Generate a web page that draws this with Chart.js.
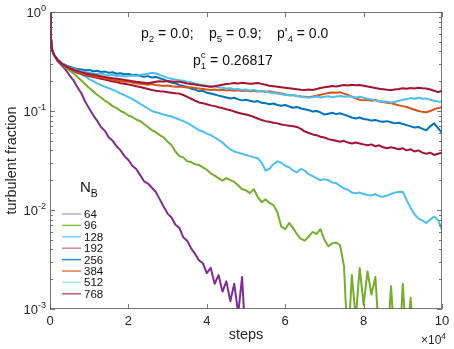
<!DOCTYPE html>
<html>
<head>
<meta charset="utf-8">
<script src="https://cdn.jsdelivr.net/npm/chart.js@4.4.1/dist/chart.umd.min.js"></script>
<style>
  html, body { margin: 0; padding: 0; background: #fff; }
  #wrap { width: 454px; height: 349px; }
</style>
</head>
<body>
<div id="wrap"><canvas id="chart" width="454" height="349"></canvas></div>
<script>
  // time steps shared by all runs
  const steps = [0, 200, 500,
    1000, 2000, 3000, 4000, 5000, 6000, 7000, 8000, 9000, 10000,
    11000, 12000, 13000, 14000, 15000, 16000, 17000, 18000, 19000, 20000,
    21000, 22000, 23000, 24000, 25000, 26000, 27000, 28000, 29000, 30000,
    31000, 32000, 33000, 34000, 35000, 36000, 37000, 38000, 39000, 40000,
    41000, 42000, 43000, 44000, 45000, 46000, 47000, 48000, 49000, 50000,
    51000, 52000, 53000, 54000, 55000, 56000, 57000, 58000, 59000, 60000,
    61000, 62000, 63000, 64000, 65000, 66000, 67000, 68000, 69000, 70000,
    71000, 72000, 73000, 74000, 75000, 76000, 77000, 78000, 79000, 80000,
    81000, 82000, 83000, 84000, 85000, 86000, 87000, 88000, 89000, 90000,
    91000, 92000, 93000, 94000, 95000, 96000, 97000, 98000, 99000, 100000];

  const nbLabels = ["64", "96", "128", "192", "256", "384", "512", "768"];

  const frac64 = [0.97, 0.56, 0.42,
    0.37, 0.318, 0.288, 0.262, 0.228, 0.204, 0.174, 0.151, 0.124, 0.106,
    0.091, 0.08, 0.069, 0.063, 0.054, 0.05, 0.044, 0.04, 0.035, 0.032,
    0.028, 0.026, 0.0225, 0.0195, 0.0185, 0.0168, 0.0152, 0.0128, 0.0108, 0.0092,
    0.0084, 0.0071, 0.0066, 0.0053, 0.0049, 0.0041, 0.0036, 0.0031, 0.0029, 0.0023,
    0.0026, 0.0018, 0.0022, 0.0015, 0.0019, 0.0012, 0.0018, 0.0009, 0.0021, 0.0004];

  const frac96 = [0.97, 0.56, 0.42,
    0.37, 0.322, 0.296, 0.276, 0.256, 0.24, 0.221, 0.203, 0.186, 0.171,
    0.158, 0.146, 0.137, 0.127, 0.12, 0.112, 0.107, 0.1, 0.096, 0.09,
    0.087, 0.082, 0.079, 0.074, 0.069, 0.064, 0.061, 0.057, 0.054, 0.049,
    0.045, 0.039, 0.035, 0.034, 0.031, 0.0305, 0.029, 0.0285, 0.027, 0.0255,
    0.0235, 0.0222, 0.021, 0.0198, 0.021, 0.02, 0.0192, 0.0178, 0.0162, 0.0158,
    0.0148, 0.0162, 0.0135, 0.012, 0.0128, 0.0118, 0.0112, 0.0095, 0.0068, 0.0064,
    0.0074, 0.0066, 0.0057, 0.0051, 0.0049, 0.0054, 0.006, 0.0057, 0.0064, 0.005,
    0.0043, 0.0046, 0.0047, 0.0044, 0.0027, 0.0004, 0.0022, 0.0008, 0.0026, 0.0011,
    0.0024, 0.0014, 0.0021, 0.0005, 0.0003, 0.0004, 0.0017, 0.0004, 0.0003, 0.0018,
    0.0004, 0.0013, 0.0003];

  const frac128 = [0.97, 0.56, 0.42,
    0.37, 0.32, 0.3, 0.285, 0.275, 0.26, 0.25, 0.235, 0.225, 0.21,
    0.2, 0.19, 0.183, 0.176, 0.17, 0.164, 0.158, 0.15, 0.145, 0.138,
    0.132, 0.125, 0.118, 0.112, 0.106, 0.1, 0.097, 0.095, 0.092, 0.09,
    0.088, 0.085, 0.082, 0.079, 0.076, 0.072, 0.068, 0.064, 0.062, 0.059,
    0.057, 0.054, 0.051, 0.048, 0.044, 0.041, 0.039, 0.038, 0.037, 0.036,
    0.035, 0.034, 0.0335, 0.03, 0.025, 0.026, 0.029, 0.031, 0.03, 0.028,
    0.027, 0.025, 0.024, 0.026, 0.025, 0.023, 0.022, 0.021, 0.02, 0.0205,
    0.02, 0.019, 0.0187, 0.0175, 0.0165, 0.016, 0.015, 0.0148, 0.015, 0.0145,
    0.0142, 0.014, 0.0145, 0.0138, 0.0136, 0.014, 0.0145, 0.015, 0.0152, 0.0153,
    0.0125, 0.0105, 0.009, 0.0082, 0.0078, 0.0074, 0.008, 0.0086, 0.0079, 0.0063];

  const frac192 = [0.97, 0.56, 0.42,
    0.37, 0.32, 0.298, 0.282, 0.268, 0.255, 0.243, 0.236, 0.229, 0.226,
    0.221, 0.217, 0.212, 0.208, 0.203, 0.199, 0.196, 0.191, 0.188, 0.185,
    0.182, 0.178, 0.175, 0.171, 0.167, 0.163, 0.16, 0.158, 0.157, 0.155,
    0.153, 0.151, 0.15, 0.145, 0.139, 0.133, 0.127, 0.122, 0.12, 0.117,
    0.114, 0.112, 0.109, 0.107, 0.104, 0.102, 0.099, 0.096, 0.094, 0.092,
    0.09, 0.087, 0.084, 0.081, 0.079, 0.078, 0.076, 0.075, 0.073, 0.072,
    0.071, 0.07, 0.069, 0.066, 0.062, 0.06, 0.058, 0.057, 0.055, 0.054,
    0.052, 0.051, 0.05, 0.049, 0.05, 0.048, 0.047, 0.048, 0.047, 0.046,
    0.045, 0.046, 0.044, 0.045, 0.043, 0.042, 0.043, 0.042, 0.041, 0.042,
    0.04, 0.041, 0.039, 0.04, 0.038, 0.037, 0.038, 0.036, 0.037, 0.038];

  const frac256 = [0.97, 0.56, 0.42,
    0.37, 0.33, 0.305, 0.29, 0.28, 0.272, 0.265, 0.262, 0.258, 0.26,
    0.252, 0.255, 0.248, 0.25, 0.243, 0.246, 0.238, 0.241, 0.235, 0.237,
    0.231, 0.233, 0.226, 0.222, 0.225, 0.218, 0.221, 0.214, 0.208, 0.2,
    0.194, 0.19, 0.183, 0.179, 0.175, 0.168, 0.165, 0.158, 0.16, 0.153,
    0.15, 0.147, 0.143, 0.14, 0.137, 0.134, 0.136, 0.131, 0.128, 0.13,
    0.127, 0.124, 0.126, 0.121, 0.12, 0.117, 0.119, 0.115, 0.113, 0.115,
    0.111, 0.108, 0.11, 0.106, 0.104, 0.102, 0.099, 0.1, 0.097, 0.092,
    0.094, 0.096, 0.093, 0.095, 0.092, 0.089, 0.086, 0.084, 0.086, 0.083,
    0.082, 0.08, 0.081, 0.079, 0.078, 0.079, 0.077, 0.075, 0.076, 0.074,
    0.072, 0.07, 0.068, 0.069, 0.066, 0.064, 0.07, 0.075, 0.067, 0.06];

  const frac384 = [0.97, 0.56, 0.42,
    0.37, 0.325, 0.3, 0.283, 0.27, 0.258, 0.248, 0.24, 0.234, 0.23,
    0.226, 0.222, 0.218, 0.214, 0.21, 0.206, 0.203, 0.2, 0.197, 0.199,
    0.194, 0.19, 0.188, 0.186, 0.184, 0.187, 0.183, 0.181, 0.179, 0.181,
    0.178, 0.176, 0.177, 0.175, 0.173, 0.174, 0.171, 0.169, 0.167, 0.165,
    0.163, 0.165, 0.162, 0.164, 0.161, 0.163, 0.16, 0.162, 0.159, 0.161,
    0.158, 0.16, 0.157, 0.159, 0.156, 0.158, 0.155, 0.153, 0.15, 0.147,
    0.144, 0.145, 0.142, 0.14, 0.139, 0.138, 0.14, 0.143, 0.146, 0.149,
    0.152, 0.154, 0.153, 0.155, 0.15, 0.145, 0.139, 0.134, 0.13, 0.128,
    0.13, 0.127, 0.129, 0.125, 0.123, 0.121, 0.12, 0.117, 0.114, 0.112,
    0.11, 0.106, 0.103, 0.1, 0.098, 0.097, 0.1, 0.104, 0.107, 0.11];

  const frac512 = [0.97, 0.56, 0.42,
    0.37, 0.33, 0.303, 0.288, 0.276, 0.266, 0.258, 0.252, 0.248, 0.244,
    0.24, 0.236, 0.239, 0.233, 0.229, 0.232, 0.226, 0.228, 0.223, 0.225,
    0.228, 0.226, 0.231, 0.235, 0.238, 0.243, 0.239, 0.232, 0.224, 0.216,
    0.212, 0.208, 0.205, 0.202, 0.198, 0.195, 0.19, 0.186, 0.183, 0.18,
    0.176, 0.178, 0.173, 0.172, 0.169, 0.17, 0.166, 0.167, 0.163, 0.165,
    0.161, 0.163, 0.159, 0.157, 0.158, 0.154, 0.152, 0.15, 0.148, 0.146,
    0.144, 0.145, 0.142, 0.14, 0.138, 0.137, 0.138, 0.14, 0.137, 0.139,
    0.141, 0.138, 0.14, 0.142, 0.139, 0.141, 0.14, 0.137, 0.139, 0.136,
    0.133, 0.131, 0.128, 0.126, 0.125, 0.124, 0.122, 0.124, 0.127, 0.13,
    0.132, 0.135, 0.133, 0.136, 0.133, 0.134, 0.13, 0.127, 0.125, 0.124];

  const frac768 = [0.97, 0.56, 0.42,
    0.37, 0.325, 0.3, 0.285, 0.272, 0.262, 0.254, 0.247, 0.241, 0.236,
    0.232, 0.228, 0.224, 0.22, 0.217, 0.214, 0.212, 0.209, 0.206, 0.203,
    0.2, 0.197, 0.195, 0.193, 0.191, 0.194, 0.197, 0.2, 0.198, 0.201,
    0.199, 0.197, 0.198, 0.194, 0.19, 0.187, 0.185, 0.182, 0.18, 0.178,
    0.176, 0.178, 0.181, 0.184, 0.187, 0.189, 0.192, 0.19, 0.193, 0.191,
    0.188, 0.19, 0.192, 0.188, 0.184, 0.18, 0.178, 0.176, 0.174, 0.172,
    0.17, 0.168, 0.166, 0.164, 0.163, 0.165, 0.163, 0.167, 0.171, 0.174,
    0.176, 0.179, 0.177, 0.18, 0.183, 0.181, 0.184, 0.182, 0.183, 0.18,
    0.177, 0.174, 0.171, 0.168, 0.166, 0.164, 0.163, 0.165, 0.167, 0.17,
    0.168, 0.171, 0.169, 0.172, 0.17, 0.169, 0.165, 0.16, 0.155, 0.16];

  const seriesValues = [frac64, frac96, frac128, frac192, frac256, frac384, frac512, frac768];
  const lineColors = ["#7E2F8E", "#77AC30", "#4DBEEE", "#A2142F", "#0072BD", "#D95319", "#4DBEEE", "#A2142F"];
  const legendColors = ["#c9a3d3", "#8cc04e", "#7fd2f4", "#cc8794", "#2f89cc", "#e07a48", "#a8e0f6", "#c0586c"];

  const yDecades = [0.001, 0.01, 0.1, 1];
  const yDecadeExp = ["-3", "-2", "-1", "0"];
  const xTicks = [0, 20000, 40000, 60000, 80000, 100000];
  const xTickLabels = ["0", "2", "4", "6", "8", "10"];

  const FONT = '"Liberation Sans", Arial, Helvetica, sans-serif';
  const fontOf = (size) => `${size}px ${FONT}`;

  function partWidth(ctx, p, size) {
    if (p.k === "n") {
      ctx.font = fontOf(size);
      return ctx.measureText(p.t).width;
    }
    ctx.font = fontOf(size * 0.7);
    if (p.k === "ss") {
      return Math.max(ctx.measureText(p.t).width, ctx.measureText(p.u).width);
    }
    return ctx.measureText(p.t).width;
  }

  function drawRich(ctx, parts, x, y, size, align) {
    const total = parts.reduce((w, p) => w + partWidth(ctx, p, size), 0);
    let cx = x;
    if (align === "right") cx = x - total;
    if (align === "center") cx = x - total / 2;
    ctx.textAlign = "left";
    ctx.textBaseline = "alphabetic";
    parts.forEach((p) => {
      const w = partWidth(ctx, p, size);
      if (p.k === "n") {
        ctx.font = fontOf(size);
        ctx.fillText(p.t, cx, y);
      } else {
        ctx.font = fontOf(size * 0.7);
        if (p.k === "sub") ctx.fillText(p.t, cx, y + size * 0.3);
        if (p.k === "sup") ctx.fillText(p.t, cx, y - size * 0.45);
        if (p.k === "ss") {
          ctx.fillText(p.t, cx, y + size * 0.3);
          ctx.fillText(p.u, cx, y - size * 0.5);
        }
      }
      cx += w;
    });
  }

  const axesPlugin = {
    id: "matlabAxes",
    afterDatasetsDraw(chart) {
      const { ctx, chartArea: a, scales } = chart;
      const xs = scales.x;
      const ys = scales.y;
      ctx.save();
      ctx.strokeStyle = "#555";
      ctx.lineWidth = 0.8;
      ctx.strokeRect(a.left + 0.5, a.top + 0.5, a.right - a.left - 1, a.bottom - a.top - 1);

      // x ticks, inward, top and bottom
      xTicks.forEach((v) => {
        const px = Math.round(xs.getPixelForValue(v)) + 0.5;
        ctx.beginPath();
        ctx.moveTo(px, a.bottom);
        ctx.lineTo(px, a.bottom - 5);
        ctx.moveTo(px, a.top);
        ctx.lineTo(px, a.top + 5);
        ctx.stroke();
      });

      // y ticks, log major + minor, both sides
      yDecades.forEach((d, i) => {
        for (let m = 1; m <= 9; m++) {
          const v = d * m;
          if (v > 1 || (i === yDecades.length - 1 && m > 1)) continue;
          const py = Math.round(ys.getPixelForValue(v)) + 0.5;
          const len = m === 1 ? 5 : 3;
          ctx.beginPath();
          ctx.moveTo(a.left, py);
          ctx.lineTo(a.left + len, py);
          ctx.moveTo(a.right, py);
          ctx.lineTo(a.right - len, py);
          ctx.stroke();
        }
      });

      ctx.fillStyle = "#262626";
      yDecades.forEach((d, i) => {
        const py = ys.getPixelForValue(d);
        drawRich(ctx, [{ k: "n", t: "10" }, { k: "sup", t: yDecadeExp[i] }], a.left - 4, py + 5, 13, "right");
      });
      ctx.font = fontOf(13);
      ctx.textAlign = "center";
      xTicks.forEach((v, i) => {
        ctx.fillText(xTickLabels[i], xs.getPixelForValue(v), a.bottom + 16);
      });
      drawRich(ctx, [{ k: "n", t: "\u00d710" }, { k: "sup", t: "4" }], a.right + 4, a.bottom + 35, 12, "right");

      // axis titles
      ctx.font = fontOf(14.5);
      ctx.textAlign = "center";
      ctx.fillText("steps", (a.left + a.right) / 2, a.bottom + 30);
      ctx.save();
      ctx.translate(16, (a.top + a.bottom) / 2);
      ctx.rotate(-Math.PI / 2);
      ctx.fillText("turbulent fraction", 0, 0);
      ctx.restore();

      // parameter annotation
      ctx.fillStyle = "#111";
      drawRich(ctx, [{ k: "n", t: "p" }, { k: "sub", t: "2" }, { k: "n", t: " = 0.0;" }], 141, 38, 14, "left");
      drawRich(ctx, [{ k: "n", t: "p" }, { k: "sub", t: "5" }, { k: "n", t: " = 0.9;" }], 209, 38, 14, "left");
      drawRich(ctx, [{ k: "n", t: "p'" }, { k: "sub", t: "4" }, { k: "n", t: " = 0.0" }], 277, 38, 14, "left");
      drawRich(ctx, [{ k: "n", t: "p" }, { k: "ss", t: "1", u: "c" }, { k: "n", t: " = 0.26817" }], 193, 65, 14, "left");

      // legend
      drawRich(ctx, [{ k: "n", t: "N" }, { k: "sub", t: "B" }], 80, 192, 15, "left");
      nbLabels.forEach((lab, i) => {
        const ly = 214 + i * 11.4;
        ctx.strokeStyle = legendColors[i];
        ctx.lineWidth = 1.5;
        ctx.beginPath();
        ctx.moveTo(62, ly);
        ctx.lineTo(81, ly);
        ctx.stroke();
        ctx.fillStyle = "#111";
        ctx.font = fontOf(11.5);
        ctx.textAlign = "left";
        ctx.fillText(lab, 84, ly + 4);
      });
      ctx.restore();
    },
  };

  const datasets = seriesValues.map((vals, i) => ({
    label: nbLabels[i],
    data: steps.map((s, j) => ({ x: s, y: vals[j] === undefined ? null : vals[j] })),
    borderColor: lineColors[i],
    borderWidth: 2,
    borderJoinStyle: "round",
    pointRadius: 0,
    tension: 0,
    fill: false,
    spanGaps: false,
    order: seriesValues.length - i,
  }));

  new Chart(document.getElementById("chart"), {
    type: "line",
    data: { datasets },
    options: {
      responsive: false,
      animation: false,
      devicePixelRatio: 1,
      layout: { padding: { left: 50, right: 12, top: 12, bottom: 40 } },
      plugins: { legend: { display: false }, tooltip: { enabled: false } },
      scales: {
        x: { type: "linear", min: 0, max: 100000, display: false },
        y: { type: "logarithmic", min: 0.001, max: 1, display: false },
      },
    },
    plugins: [axesPlugin],
  });
</script>
</body>
</html>
